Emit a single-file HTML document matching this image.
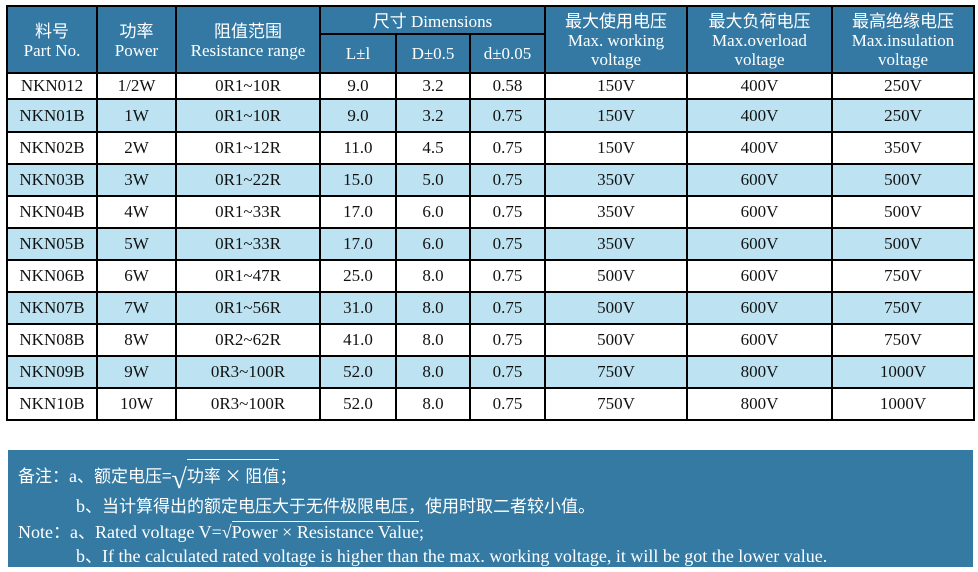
<!DOCTYPE html>
<html><head><meta charset="utf-8"><style>
body{margin:0;width:978px;height:572px;background:#fff;overflow:hidden;font-family:"Liberation Serif","Noto Serif CJK SC",serif;}
table{position:absolute;left:6px;top:5px;border-collapse:collapse;table-layout:fixed;}
td,th{border:2px solid #000;text-align:center;padding:0;font-size:17px;color:#111;font-weight:normal;}
th{background:#3379a3;color:#fff;line-height:19px;font-size:17px;}
th .cn{font-family:"Noto Sans CJK SC",sans-serif;font-size:17px;}
tr.b td{background:#bde3f2;}
.note{position:absolute;left:8px;top:450px;width:965px;height:117px;background:#347aa3;color:#fff;font-family:"Liberation Serif","Noto Sans CJK SC",serif;font-size:18px;}
.note div{position:absolute;white-space:nowrap;}
.cn2{font-family:"Noto Sans CJK SC",sans-serif;font-size:17px;}
</style></head><body>
<table>
<colgroup><col style="width:90px"><col style="width:79px"><col style="width:144px"><col style="width:76px"><col style="width:74px"><col style="width:75px"><col style="width:142px"><col style="width:145px"><col style="width:142px"></colgroup>
<tr style="height:28px"><th rowspan="2"><span class="cn">料号</span><br>Part No.</th><th rowspan="2"><span class="cn">功率</span><br>Power</th><th rowspan="2"><span class="cn">阻值范围</span><br>Resistance range</th><th colspan="3"><span class="cn">尺寸</span> Dimensions</th><th rowspan="2"><span class="cn">最大使用电压</span><br>Max. working<br>voltage</th><th rowspan="2"><span class="cn">最大负荷电压</span><br>Max.overload<br>voltage</th><th rowspan="2"><span class="cn">最高绝缘电压</span><br>Max.insulation<br>voltage</th></tr>
<tr style="height:39px"><th>L±l</th><th>D±0.5</th><th>d±0.05</th></tr>
<tr style="height:26px"><td>NKN012</td><td>1/2W</td><td>0R1~10R</td><td>9.0</td><td>3.2</td><td>0.58</td><td>150V</td><td>400V</td><td>250V</td></tr>
<tr class="b" style="height:33px"><td>NKN01B</td><td>1W</td><td>0R1~10R</td><td>9.0</td><td>3.2</td><td>0.75</td><td>150V</td><td>400V</td><td>250V</td></tr>
<tr style="height:32px"><td>NKN02B</td><td>2W</td><td>0R1~12R</td><td>11.0</td><td>4.5</td><td>0.75</td><td>150V</td><td>400V</td><td>350V</td></tr>
<tr class="b" style="height:32px"><td>NKN03B</td><td>3W</td><td>0R1~22R</td><td>15.0</td><td>5.0</td><td>0.75</td><td>350V</td><td>600V</td><td>500V</td></tr>
<tr style="height:32px"><td>NKN04B</td><td>4W</td><td>0R1~33R</td><td>17.0</td><td>6.0</td><td>0.75</td><td>350V</td><td>600V</td><td>500V</td></tr>
<tr class="b" style="height:32px"><td>NKN05B</td><td>5W</td><td>0R1~33R</td><td>17.0</td><td>6.0</td><td>0.75</td><td>350V</td><td>600V</td><td>500V</td></tr>
<tr style="height:32px"><td>NKN06B</td><td>6W</td><td>0R1~47R</td><td>25.0</td><td>8.0</td><td>0.75</td><td>500V</td><td>600V</td><td>750V</td></tr>
<tr class="b" style="height:32px"><td>NKN07B</td><td>7W</td><td>0R1~56R</td><td>31.0</td><td>8.0</td><td>0.75</td><td>500V</td><td>600V</td><td>750V</td></tr>
<tr style="height:32px"><td>NKN08B</td><td>8W</td><td>0R2~62R</td><td>41.0</td><td>8.0</td><td>0.75</td><td>500V</td><td>600V</td><td>750V</td></tr>
<tr class="b" style="height:32px"><td>NKN09B</td><td>9W</td><td>0R3~100R</td><td>52.0</td><td>8.0</td><td>0.75</td><td>750V</td><td>800V</td><td>1000V</td></tr>
<tr style="height:32px"><td>NKN10B</td><td>10W</td><td>0R3~100R</td><td>52.0</td><td>8.0</td><td>0.75</td><td>750V</td><td>800V</td><td>1000V</td></tr>
</table>
<div class="note">
<div style="left:10px;top:12px;"><span class="cn2">备注：</span>a<span class="cn2">、额定电压=</span><span style="font-size:28px;vertical-align:-6px">√</span><span class="cn2" style="border-top:1.5px solid #fff;padding-top:2px">功率 × 阻值</span><span class="cn2">；</span></div>
<div style="left:68px;top:42px;">b<span class="cn2">、当计算得出的额定电压大于无件极限电压，使用时取二者较小值。</span></div>
<div style="left:10px;top:68px;">Note<span class="cn2">：</span>a<span class="cn2">、</span>Rated voltage V=√<span style="border-top:1.5px solid #fff">Power × Resistance Value</span>;</div>
<div style="left:68px;top:92px;">b<span class="cn2">、</span>If the calculated rated voltage is higher than the max. working voltage, it will be got the lower value.</div>
</div>
</body></html>
